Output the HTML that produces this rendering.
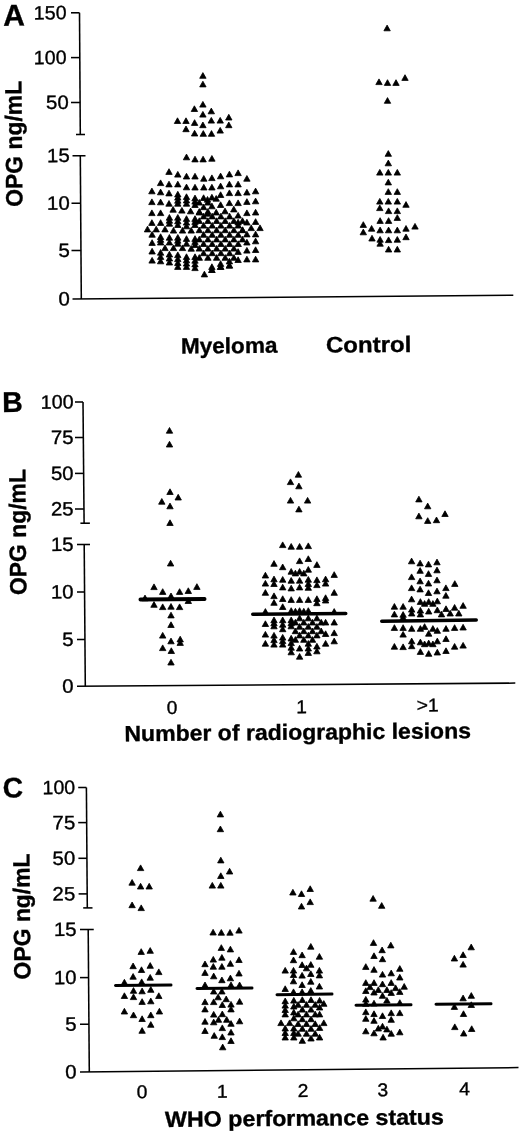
<!DOCTYPE html>
<html><head><meta charset="utf-8"><title>OPG figure</title>
<style>
html,body{margin:0;padding:0;background:#fff;}
svg{display:block;}
text{font-family:"Liberation Sans",Arial,Helvetica,sans-serif;fill:#000;stroke:#000;stroke-width:0.35px;}
</style></head><body>
<svg width="520" height="1135" viewBox="0 0 520 1135">
<rect width="520" height="1135" fill="#fff"/>
<line x1="79.5" y1="12.8" x2="80.3" y2="134.5" stroke="#000" stroke-width="1.55"/>
<line x1="71" y1="12.8" x2="79.5" y2="12.8" stroke="#000" stroke-width="1.55"/>
<line x1="71" y1="57.6" x2="79.8" y2="57.6" stroke="#000" stroke-width="1.55"/>
<line x1="71" y1="102.5" x2="80.1" y2="102.5" stroke="#000" stroke-width="1.55"/>
<line x1="76" y1="134.5" x2="85" y2="134.5" stroke="#000" stroke-width="1.55"/>
<line x1="80.3" y1="155.75" x2="81.3" y2="299" stroke="#000" stroke-width="1.55"/>
<line x1="72.5" y1="155.75" x2="85.5" y2="155.75" stroke="#000" stroke-width="1.55"/>
<line x1="71.5" y1="203.25" x2="80.8" y2="203.25" stroke="#000" stroke-width="1.55"/>
<line x1="71.5" y1="250.5" x2="81" y2="250.5" stroke="#000" stroke-width="1.55"/>
<line x1="72.5" y1="299" x2="513.3" y2="295.2" stroke="#000" stroke-width="1.55"/>
<text x="66.6" y="19.200000000000003" font-size="19.3" text-anchor="end" transform="rotate(-0.5 66.6 19.200000000000003)" textLength="32.8" lengthAdjust="spacingAndGlyphs">150</text>
<text x="66.6" y="64.0" font-size="19.3" text-anchor="end" transform="rotate(-0.5 66.6 64.0)" textLength="32.8" lengthAdjust="spacingAndGlyphs">100</text>
<text x="68.8" y="108.9" font-size="19.3" text-anchor="end" transform="rotate(-0.5 68.8 108.9)" textLength="22.7" lengthAdjust="spacingAndGlyphs">50</text>
<text x="69.8" y="162.0" font-size="19.3" text-anchor="end" transform="rotate(-0.5 69.8 162.0)" textLength="22.7" lengthAdjust="spacingAndGlyphs">15</text>
<text x="69.8" y="209.65" font-size="19.3" text-anchor="end" transform="rotate(-0.5 69.8 209.65)" textLength="22.7" lengthAdjust="spacingAndGlyphs">10</text>
<text x="69.8" y="256.9" font-size="19.3" text-anchor="end" transform="rotate(-0.5 69.8 256.9)" textLength="11.4" lengthAdjust="spacingAndGlyphs">5</text>
<text x="69.8" y="305.4" font-size="19.3" text-anchor="end" transform="rotate(-0.5 69.8 305.4)" textLength="11.4" lengthAdjust="spacingAndGlyphs">0</text>
<text x="3.2" y="25.8" font-size="30" font-weight="bold" text-anchor="start" transform="rotate(-0.5 3.2 25.8)">A</text>
<text x="22.5" y="206.8" font-size="23.6" font-weight="bold" text-anchor="start" transform="rotate(-90.5 22.5 206.8)" textLength="126" lengthAdjust="spacingAndGlyphs">OPG ng/mL</text>
<text x="181" y="353.6" font-size="22" font-weight="bold" text-anchor="start" transform="rotate(-0.5 181 353.6)" textLength="96.5" lengthAdjust="spacingAndGlyphs">Myeloma</text>
<text x="326" y="352.6" font-size="22.3" font-weight="bold" text-anchor="start" transform="rotate(-0.5 326 352.6)" textLength="85.5" lengthAdjust="spacingAndGlyphs">Control</text>
<line x1="83" y1="402" x2="84.1" y2="523.2" stroke="#000" stroke-width="1.55"/>
<line x1="75" y1="402" x2="83" y2="402" stroke="#000" stroke-width="1.55"/>
<line x1="75" y1="437.5" x2="83.3" y2="437.5" stroke="#000" stroke-width="1.55"/>
<line x1="75" y1="473.4" x2="83.6" y2="473.4" stroke="#000" stroke-width="1.55"/>
<line x1="75" y1="509" x2="83.9" y2="509" stroke="#000" stroke-width="1.55"/>
<line x1="80.4" y1="523.2" x2="89.9" y2="523.2" stroke="#000" stroke-width="1.55"/>
<line x1="84.2" y1="544.5" x2="85.3" y2="686.25" stroke="#000" stroke-width="1.55"/>
<line x1="77" y1="544.5" x2="90" y2="544.5" stroke="#000" stroke-width="1.55"/>
<line x1="77" y1="592" x2="84.6" y2="592" stroke="#000" stroke-width="1.55"/>
<line x1="77" y1="639.5" x2="85" y2="639.5" stroke="#000" stroke-width="1.55"/>
<line x1="77" y1="686.3" x2="515.3" y2="683.1" stroke="#000" stroke-width="1.55"/>
<text x="73.6" y="408.4" font-size="19.3" text-anchor="end" transform="rotate(-0.5 73.6 408.4)" textLength="32.8" lengthAdjust="spacingAndGlyphs">100</text>
<text x="73.6" y="443.9" font-size="19.3" text-anchor="end" transform="rotate(-0.5 73.6 443.9)" textLength="22.7" lengthAdjust="spacingAndGlyphs">75</text>
<text x="73.6" y="479.79999999999995" font-size="19.3" text-anchor="end" transform="rotate(-0.5 73.6 479.79999999999995)" textLength="22.7" lengthAdjust="spacingAndGlyphs">50</text>
<text x="73.6" y="515.4" font-size="19.3" text-anchor="end" transform="rotate(-0.5 73.6 515.4)" textLength="22.7" lengthAdjust="spacingAndGlyphs">25</text>
<text x="73.6" y="550.9" font-size="19.3" text-anchor="end" transform="rotate(-0.5 73.6 550.9)" textLength="22.7" lengthAdjust="spacingAndGlyphs">15</text>
<text x="73.6" y="598.4" font-size="19.3" text-anchor="end" transform="rotate(-0.5 73.6 598.4)" textLength="22.7" lengthAdjust="spacingAndGlyphs">10</text>
<text x="73.6" y="645.9" font-size="19.3" text-anchor="end" transform="rotate(-0.5 73.6 645.9)" textLength="11.4" lengthAdjust="spacingAndGlyphs">5</text>
<text x="73.6" y="692.65" font-size="19.3" text-anchor="end" transform="rotate(-0.5 73.6 692.65)" textLength="11.4" lengthAdjust="spacingAndGlyphs">0</text>
<text x="2.3" y="411.9" font-size="28.5" font-weight="bold" text-anchor="start" transform="rotate(-0.5 2.3 411.9)">B</text>
<text x="26.4" y="595.0" font-size="23.6" font-weight="bold" text-anchor="start" transform="rotate(-90.5 26.4 595.0)" textLength="126" lengthAdjust="spacingAndGlyphs">OPG ng/mL</text>
<text x="172" y="714" font-size="18.5" text-anchor="middle" transform="rotate(-0.5 172 714)" textLength="10.7" lengthAdjust="spacingAndGlyphs">0</text>
<text x="301.5" y="713.3" font-size="18.5" text-anchor="middle" transform="rotate(-0.5 301.5 713.3)" textLength="10.7" lengthAdjust="spacingAndGlyphs">1</text>
<text x="416.7" y="711.5" font-size="18.5" text-anchor="start" transform="rotate(-0.5 416.7 711.5)" textLength="22" lengthAdjust="spacingAndGlyphs">&gt;1</text>
<text x="124.5" y="741.2" font-size="22" font-weight="bold" text-anchor="start" transform="rotate(-0.5 124.5 741.2)" textLength="346.5" lengthAdjust="spacingAndGlyphs">Number of radiographic lesions</text>
<line x1="86.4" y1="787.5" x2="87.3" y2="907.9" stroke="#000" stroke-width="1.55"/>
<line x1="78.2" y1="787.5" x2="86.4" y2="787.5" stroke="#000" stroke-width="1.55"/>
<line x1="78.2" y1="822.6" x2="86.7" y2="822.6" stroke="#000" stroke-width="1.55"/>
<line x1="78.4" y1="858.3" x2="87" y2="858.3" stroke="#000" stroke-width="1.55"/>
<line x1="78.6" y1="893.9" x2="87.2" y2="893.9" stroke="#000" stroke-width="1.55"/>
<line x1="83.2" y1="907.9" x2="92.5" y2="907.9" stroke="#000" stroke-width="1.55"/>
<line x1="88.2" y1="929.5" x2="89.3" y2="1072" stroke="#000" stroke-width="1.55"/>
<line x1="80" y1="929.5" x2="93.75" y2="929.5" stroke="#000" stroke-width="1.55"/>
<line x1="80" y1="977.6" x2="88.6" y2="977.6" stroke="#000" stroke-width="1.55"/>
<line x1="80" y1="1024.25" x2="89" y2="1024.25" stroke="#000" stroke-width="1.55"/>
<line x1="80" y1="1072" x2="518.5" y2="1067.6" stroke="#000" stroke-width="1.55"/>
<text x="75.3" y="793.9" font-size="19.3" text-anchor="end" transform="rotate(-0.5 75.3 793.9)" textLength="32.8" lengthAdjust="spacingAndGlyphs">100</text>
<text x="75.3" y="829.15" font-size="19.3" text-anchor="end" transform="rotate(-0.5 75.3 829.15)" textLength="22.7" lengthAdjust="spacingAndGlyphs">75</text>
<text x="75.3" y="864.6999999999999" font-size="19.3" text-anchor="end" transform="rotate(-0.5 75.3 864.6999999999999)" textLength="22.7" lengthAdjust="spacingAndGlyphs">50</text>
<text x="75.3" y="900.3" font-size="19.3" text-anchor="end" transform="rotate(-0.5 75.3 900.3)" textLength="22.7" lengthAdjust="spacingAndGlyphs">25</text>
<text x="76.7" y="935.9" font-size="19.3" text-anchor="end" transform="rotate(-0.5 76.7 935.9)" textLength="22.7" lengthAdjust="spacingAndGlyphs">15</text>
<text x="76.7" y="984.0" font-size="19.3" text-anchor="end" transform="rotate(-0.5 76.7 984.0)" textLength="22.7" lengthAdjust="spacingAndGlyphs">10</text>
<text x="76.7" y="1030.65" font-size="19.3" text-anchor="end" transform="rotate(-0.5 76.7 1030.65)" textLength="11.4" lengthAdjust="spacingAndGlyphs">5</text>
<text x="76.7" y="1078.4" font-size="19.3" text-anchor="end" transform="rotate(-0.5 76.7 1078.4)" textLength="11.4" lengthAdjust="spacingAndGlyphs">0</text>
<text x="2.8" y="797.5" font-size="28.3" font-weight="bold" text-anchor="start" transform="rotate(-0.5 2.8 797.5)">C</text>
<text x="30.6" y="979.4" font-size="23.6" font-weight="bold" text-anchor="start" transform="rotate(-90.5 30.6 979.4)" textLength="126" lengthAdjust="spacingAndGlyphs">OPG ng/mL</text>
<text x="142.2" y="1098.3" font-size="18.5" text-anchor="middle" transform="rotate(-0.5 142.2 1098.3)" textLength="10.7" lengthAdjust="spacingAndGlyphs">0</text>
<text x="222.3" y="1097.6" font-size="18.5" text-anchor="middle" transform="rotate(-0.5 222.3 1097.6)" textLength="10.7" lengthAdjust="spacingAndGlyphs">1</text>
<text x="303" y="1096.9" font-size="18.5" text-anchor="middle" transform="rotate(-0.5 303 1096.9)" textLength="10.7" lengthAdjust="spacingAndGlyphs">2</text>
<text x="382.9" y="1096.1" font-size="18.5" text-anchor="middle" transform="rotate(-0.5 382.9 1096.1)" textLength="10.7" lengthAdjust="spacingAndGlyphs">3</text>
<text x="464.6" y="1095.2" font-size="18.5" text-anchor="middle" transform="rotate(-0.5 464.6 1095.2)" textLength="10.7" lengthAdjust="spacingAndGlyphs">4</text>
<text x="165" y="1126.9" font-size="22" font-weight="bold" text-anchor="start" transform="rotate(-0.5 165 1126.9)" textLength="279" lengthAdjust="spacingAndGlyphs">WHO performance status</text>
<path d="M199.7 78.3L206.1 78.3L202.9 72.6ZM199.7 86.9L206.1 86.9L202.9 81.2ZM199.7 107.1L206.1 107.1L202.9 101.4ZM191.2 111.5L197.6 111.5L194.4 105.8ZM208.1 113.8L214.5 113.8L211.3 108.1ZM199.7 117.1L206.1 117.1L202.9 111.4ZM174.3 123.5L180.7 123.5L177.5 117.8ZM182.8 123.5L189.2 123.5L186.0 117.8ZM191.4 125.4L197.8 125.4L194.6 119.7ZM199.7 127.7L206.1 127.7L202.9 122.0ZM208.1 123.1L214.5 123.1L211.3 117.4ZM217.0 123.1L223.4 123.1L220.2 117.4ZM225.6 120.0L232.0 120.0L228.8 114.3ZM225.6 127.7L232.0 127.7L228.8 122.0ZM182.8 131.7L189.2 131.7L186.0 126.0ZM191.4 136.0L197.8 136.0L194.6 130.3ZM200.1 136.3L206.5 136.3L203.3 130.6ZM208.3 136.3L214.7 136.3L211.5 130.6ZM217.0 133.1L223.4 133.1L220.2 127.4ZM183.3 159.8L189.7 159.8L186.5 154.1ZM191.8 161.9L198.2 161.9L195.0 156.2ZM199.9 161.9L206.3 161.9L203.1 156.2ZM165.8 174.4L172.2 174.4L169.0 168.7ZM174.6 177.1L181.0 177.1L177.8 171.4ZM183.3 179.0L189.7 179.0L186.5 173.3ZM191.8 179.0L198.2 179.0L195.0 173.3ZM200.6 181.2L207.0 181.2L203.8 175.5ZM157.4 185.6L163.8 185.6L160.6 179.9ZM165.8 186.9L172.2 186.9L169.0 181.2ZM174.6 186.9L181.0 186.9L177.8 181.2ZM183.3 189.8L189.7 189.8L186.5 184.1ZM191.8 190.0L198.2 190.0L195.0 184.3ZM200.6 190.0L207.0 190.0L203.8 184.3ZM148.7 193.8L155.1 193.8L151.9 188.1ZM157.4 194.8L163.8 194.8L160.6 189.1ZM165.8 195.9L172.2 195.9L169.0 190.2ZM174.6 197.0L181.0 197.0L177.8 191.3ZM174.6 200.1L181.0 200.1L177.8 194.4ZM174.6 203.2L181.0 203.2L177.8 197.5ZM174.6 206.2L181.0 206.2L177.8 200.5ZM183.3 199.5L189.7 199.5L186.5 193.8ZM183.3 202.9L189.7 202.9L186.5 197.2ZM183.3 206.2L189.7 206.2L186.5 200.5ZM191.8 200.8L198.2 200.8L195.0 195.1ZM191.8 204.1L198.2 204.1L195.0 198.4ZM191.8 207.5L198.2 207.5L195.0 201.8ZM148.7 204.6L155.1 204.6L151.9 198.9ZM157.4 204.8L163.8 204.8L160.6 199.1ZM165.8 206.2L172.2 206.2L169.0 200.5ZM169.9 212.2L176.3 212.2L173.1 206.5ZM178.7 213.1L185.1 213.1L181.9 207.4ZM187.4 213.8L193.8 213.8L190.6 208.1ZM196.2 215.0L202.6 215.0L199.4 209.3ZM148.7 215.6L155.1 215.6L151.9 209.9ZM157.4 215.6L163.8 215.6L160.6 209.9ZM166.2 220.2L172.6 220.2L169.4 214.5ZM166.2 223.2L172.6 223.2L169.4 217.5ZM166.2 226.2L172.6 226.2L169.4 220.5ZM174.6 220.2L181.0 220.2L177.8 214.5ZM174.6 223.8L181.0 223.8L177.8 218.1ZM174.6 227.5L181.0 227.5L177.8 221.8ZM183.3 221.4L189.7 221.4L186.5 215.7ZM183.3 225.1L189.7 225.1L186.5 219.4ZM183.3 228.8L189.7 228.8L186.5 223.1ZM191.8 221.4L198.2 221.4L195.0 215.7ZM191.8 224.4L198.2 224.4L195.0 218.7ZM191.8 227.5L198.2 227.5L195.0 221.8ZM148.7 225.4L155.1 225.4L151.9 219.7ZM157.4 225.4L163.8 225.4L160.6 219.7ZM144.3 231.9L150.7 231.9L147.5 226.2ZM153.0 231.9L159.4 231.9L156.2 226.2ZM161.8 231.9L168.2 231.9L165.0 226.2ZM170.3 233.1L176.7 233.1L173.5 227.4ZM179.3 233.1L185.7 233.1L182.5 227.4ZM188.0 233.1L194.4 233.1L191.2 227.4ZM148.9 237.2L155.3 237.2L152.1 231.5ZM157.4 239.5L163.8 239.5L160.6 233.8ZM157.4 242.3L163.8 242.3L160.6 236.6ZM157.4 245.0L163.8 245.0L160.6 239.3ZM166.2 240.2L172.6 240.2L169.4 234.5ZM166.2 245.0L172.6 245.0L169.4 239.3ZM174.6 240.2L181.0 240.2L177.8 234.5ZM174.6 243.2L181.0 243.2L177.8 237.5ZM174.6 246.2L181.0 246.2L177.8 240.5ZM183.3 241.4L189.7 241.4L186.5 235.7ZM183.3 246.2L189.7 246.2L186.5 240.5ZM191.8 241.4L198.2 241.4L195.0 235.7ZM191.8 244.4L198.2 244.4L195.0 238.7ZM191.8 247.5L198.2 247.5L195.0 241.8ZM148.9 245.4L155.3 245.4L152.1 239.7ZM161.8 250.6L168.2 250.6L165.0 244.9ZM170.3 250.6L176.7 250.6L173.5 244.9ZM179.3 250.6L185.7 250.6L182.5 244.9ZM188.0 251.2L194.4 251.2L191.2 245.5ZM148.9 254.0L155.3 254.0L152.1 248.3ZM157.4 255.2L163.8 255.2L160.6 249.5ZM157.4 259.4L163.8 259.4L160.6 253.7ZM157.4 263.8L163.8 263.8L160.6 258.1ZM166.2 257.0L172.6 257.0L169.4 251.3ZM166.2 261.0L172.6 261.0L169.4 255.3ZM166.2 265.0L172.6 265.0L169.4 259.3ZM174.6 257.6L181.0 257.6L177.8 251.9ZM174.6 261.6L181.0 261.6L177.8 255.9ZM174.6 265.5L181.0 265.5L177.8 259.8ZM174.6 269.4L181.0 269.4L177.8 263.7ZM183.3 259.5L189.7 259.5L186.5 253.8ZM183.3 262.8L189.7 262.8L186.5 257.1ZM183.3 266.1L189.7 266.1L186.5 260.4ZM183.3 269.4L189.7 269.4L186.5 263.7ZM191.8 259.5L198.2 259.5L195.0 253.8ZM191.8 263.2L198.2 263.2L195.0 257.5ZM191.8 266.9L198.2 266.9L195.0 261.2ZM191.8 270.6L198.2 270.6L195.0 264.9ZM148.9 263.1L155.3 263.1L152.1 257.4ZM208.7 161.2L215.1 161.2L211.9 155.5ZM234.9 175.6L241.3 175.6L238.1 169.9ZM226.2 176.9L232.6 176.9L229.4 171.2ZM217.4 178.8L223.8 178.8L220.6 173.1ZM208.7 180.6L215.1 180.6L211.9 174.9ZM243.7 181.2L250.1 181.2L246.9 175.5ZM234.9 186.9L241.3 186.9L238.1 181.2ZM226.2 186.9L232.6 186.9L229.4 181.2ZM217.4 188.8L223.8 188.8L220.6 183.1ZM208.7 190.0L215.1 190.0L211.9 184.3ZM252.4 193.8L258.8 193.8L255.6 188.1ZM243.7 195.0L250.1 195.0L246.9 189.3ZM234.9 195.6L241.3 195.6L238.1 189.9ZM226.2 195.6L232.6 195.6L229.4 189.9ZM217.4 197.5L223.8 197.5L220.6 191.8ZM208.7 200.0L215.1 200.0L211.9 194.3ZM252.4 203.8L258.8 203.8L255.6 198.1ZM243.7 204.4L250.1 204.4L246.9 198.7ZM234.9 205.6L241.3 205.6L238.1 199.9ZM226.2 205.6L232.6 205.6L229.4 199.9ZM217.4 207.5L223.8 207.5L220.6 201.8ZM208.7 208.8L215.1 208.8L211.9 203.1ZM230.6 211.9L237.0 211.9L233.8 206.2ZM221.8 213.8L228.2 213.8L225.0 208.1ZM213.0 215.0L219.4 215.0L216.2 209.3ZM204.3 216.2L210.7 216.2L207.5 210.5ZM204.3 202.2L210.7 202.2L207.5 196.5ZM213.0 201.2L219.4 201.2L216.2 195.5ZM252.4 215.0L258.8 215.0L255.6 209.3ZM243.7 215.6L250.1 215.6L246.9 209.9ZM234.9 218.1L241.3 218.1L238.1 212.4ZM252.4 224.4L258.8 224.4L255.6 218.7ZM243.7 225.0L250.1 225.0L246.9 219.3ZM234.9 225.0L241.3 225.0L238.1 219.3ZM256.8 230.6L263.2 230.6L260.0 224.9ZM248.0 230.6L254.4 230.6L251.2 224.9ZM239.3 232.5L245.7 232.5L242.5 226.8ZM252.4 236.9L258.8 236.9L255.6 231.2ZM252.4 243.8L258.8 243.8L255.6 238.1ZM243.7 236.9L250.1 236.9L246.9 231.2ZM243.7 245.0L250.1 245.0L246.9 239.3ZM252.4 252.5L258.8 252.5L255.6 246.8ZM243.7 253.1L250.1 253.1L246.9 247.4ZM252.4 261.9L258.8 261.9L255.6 256.2ZM243.7 261.9L250.1 261.9L246.9 256.2ZM234.9 262.5L241.3 262.5L238.1 256.8ZM234.9 254.4L241.3 254.4L238.1 248.7ZM226.2 268.1L232.6 268.1L229.4 262.4ZM217.4 269.4L223.8 269.4L220.6 263.7ZM208.7 272.5L215.1 272.5L211.9 266.8ZM201.2 276.9L207.6 276.9L204.4 271.2ZM217.4 266.4L223.8 266.4L220.6 260.7ZM217.4 269.4L223.8 269.4L220.6 263.7ZM226.2 263.9L232.6 263.9L229.4 258.2ZM226.2 268.1L232.6 268.1L229.4 262.4ZM208.7 269.5L215.1 269.5L211.9 263.8ZM208.7 272.5L215.1 272.5L211.9 266.8ZM200.4 200.5L206.8 200.5L203.6 194.8ZM196.1 205.1L202.5 205.1L199.3 199.4ZM204.7 205.1L211.1 205.1L207.9 199.4ZM200.4 209.7L206.8 209.7L203.6 204.0ZM196.1 214.3L202.5 214.3L199.3 208.6ZM204.7 214.3L211.1 214.3L207.9 208.6ZM200.4 218.9L206.8 218.9L203.6 213.2ZM209.0 218.9L215.4 218.9L212.2 213.2ZM217.7 218.9L224.1 218.9L220.9 213.2ZM226.4 218.9L232.8 218.9L229.6 213.2ZM196.1 223.5L202.5 223.5L199.3 217.8ZM204.7 223.5L211.1 223.5L207.9 217.8ZM213.4 223.5L219.8 223.5L216.6 217.8ZM222.0 223.5L228.4 223.5L225.2 217.8ZM230.7 223.5L237.1 223.5L233.9 217.8ZM239.3 223.5L245.7 223.5L242.5 217.8ZM200.4 228.1L206.8 228.1L203.6 222.4ZM209.0 228.1L215.4 228.1L212.2 222.4ZM217.7 228.1L224.1 228.1L220.9 222.4ZM226.4 228.1L232.8 228.1L229.6 222.4ZM235.0 228.1L241.4 228.1L238.2 222.4ZM196.1 232.7L202.5 232.7L199.3 227.0ZM204.7 232.7L211.1 232.7L207.9 227.0ZM213.4 232.7L219.8 232.7L216.6 227.0ZM222.0 232.7L228.4 232.7L225.2 227.0ZM230.7 232.7L237.1 232.7L233.9 227.0ZM239.3 232.7L245.7 232.7L242.5 227.0ZM200.4 237.3L206.8 237.3L203.6 231.6ZM209.0 237.3L215.4 237.3L212.2 231.6ZM217.7 237.3L224.1 237.3L220.9 231.6ZM226.4 237.3L232.8 237.3L229.6 231.6ZM235.0 237.3L241.4 237.3L238.2 231.6ZM196.1 241.9L202.5 241.9L199.3 236.2ZM204.7 241.9L211.1 241.9L207.9 236.2ZM213.4 241.9L219.8 241.9L216.6 236.2ZM222.0 241.9L228.4 241.9L225.2 236.2ZM230.7 241.9L237.1 241.9L233.9 236.2ZM239.3 241.9L245.7 241.9L242.5 236.2ZM200.4 246.5L206.8 246.5L203.6 240.8ZM209.0 246.5L215.4 246.5L212.2 240.8ZM217.7 246.5L224.1 246.5L220.9 240.8ZM226.4 246.5L232.8 246.5L229.6 240.8ZM235.0 246.5L241.4 246.5L238.2 240.8ZM196.1 251.1L202.5 251.1L199.3 245.4ZM204.7 251.1L211.1 251.1L207.9 245.4ZM213.4 251.1L219.8 251.1L216.6 245.4ZM222.0 251.1L228.4 251.1L225.2 245.4ZM230.7 251.1L237.1 251.1L233.9 245.4ZM200.4 255.7L206.8 255.7L203.6 250.0ZM209.0 255.7L215.4 255.7L212.2 250.0ZM217.7 255.7L224.1 255.7L220.9 250.0ZM226.4 255.7L232.8 255.7L229.6 250.0ZM196.1 260.3L202.5 260.3L199.3 254.6ZM204.7 260.3L211.1 260.3L207.9 254.6ZM213.4 260.3L219.8 260.3L216.6 254.6ZM222.0 260.3L228.4 260.3L225.2 254.6ZM230.7 260.3L237.1 260.3L233.9 254.6ZM383.9 30.8L390.3 30.8L387.1 25.1ZM375.8 84.6L382.2 84.6L379.0 78.9ZM384.3 85.4L390.7 85.4L387.5 79.7ZM392.8 85.4L399.2 85.4L396.0 79.7ZM401.8 80.4L408.2 80.4L405.0 74.7ZM384.3 103.3L390.7 103.3L387.5 97.6ZM385.1 156.3L391.5 156.3L388.3 150.6ZM385.1 165.8L391.5 165.8L388.3 160.1ZM376.6 175.1L383.0 175.1L379.8 169.4ZM385.1 175.1L391.5 175.1L388.3 169.4ZM394.1 175.1L400.5 175.1L397.3 169.4ZM385.1 184.9L391.5 184.9L388.3 179.2ZM385.1 194.4L391.5 194.4L388.3 188.7ZM394.1 194.4L400.5 194.4L397.3 188.7ZM376.6 204.1L383.0 204.1L379.8 198.4ZM376.6 210.6L383.0 210.6L379.8 204.9ZM385.1 204.1L391.5 204.1L388.3 198.4ZM394.1 204.1L400.5 204.1L397.3 198.4ZM402.8 207.3L409.2 207.3L406.0 201.6ZM385.4 213.6L391.8 213.6L388.6 207.9ZM394.1 213.6L400.5 213.6L397.3 207.9ZM394.1 220.4L400.5 220.4L397.3 214.7ZM376.9 223.4L383.3 223.4L380.1 217.7ZM385.4 223.4L391.8 223.4L388.6 217.7ZM360.1 227.4L366.5 227.4L363.3 221.7ZM368.4 231.2L374.8 231.2L371.6 225.5ZM376.9 232.8L383.3 232.8L380.1 227.1ZM385.4 232.8L391.8 232.8L388.6 227.1ZM394.1 232.8L400.5 232.8L397.3 227.1ZM402.8 231.2L409.2 231.2L406.0 225.5ZM411.8 229.1L418.2 229.1L415.0 223.4ZM360.1 234.8L366.5 234.8L363.3 229.1ZM368.8 241.0L375.2 241.0L372.0 235.3ZM376.9 242.2L383.3 242.2L380.1 236.5ZM376.9 246.2L383.3 246.2L380.1 240.5ZM385.4 242.6L391.8 242.6L388.6 236.9ZM394.1 242.2L400.5 242.2L397.3 236.5ZM402.8 239.7L409.2 239.7L406.0 234.0ZM385.4 252.0L391.8 252.0L388.6 246.3ZM394.1 252.0L400.5 252.0L397.3 246.3ZM166.3 433.2L172.7 433.2L169.5 427.5ZM166.3 447.0L172.7 447.0L169.5 441.3ZM166.8 494.5L173.2 494.5L170.0 488.8ZM175.0 500.0L181.4 500.0L178.2 494.3ZM158.6 504.2L165.0 504.2L161.8 498.5ZM166.8 508.8L173.2 508.8L170.0 503.1ZM166.8 525.5L173.2 525.5L170.0 519.8ZM167.4 566.0L173.8 566.0L170.6 560.3ZM150.8 589.6L157.2 589.6L154.0 583.9ZM193.7 589.4L200.1 589.4L196.9 583.7ZM159.5 594.4L165.9 594.4L162.7 588.7ZM176.4 594.4L182.8 594.4L179.6 588.7ZM185.1 593.5L191.5 593.5L188.3 587.8ZM167.8 598.7L174.2 598.7L171.0 593.0ZM141.8 600.8L148.2 600.8L145.0 595.1ZM150.8 607.3L157.2 607.3L154.0 601.6ZM159.5 609.6L165.9 609.6L162.7 603.9ZM167.8 609.2L174.2 609.2L171.0 603.5ZM176.4 609.6L182.8 609.6L179.6 603.9ZM185.1 603.5L191.5 603.5L188.3 597.8ZM167.8 617.9L174.2 617.9L171.0 612.2ZM167.8 627.5L174.2 627.5L171.0 621.8ZM159.5 638.1L165.9 638.1L162.7 632.4ZM177.0 641.9L183.4 641.9L180.2 636.2ZM177.0 645.4L183.4 645.4L180.2 639.7ZM167.8 643.8L174.2 643.8L171.0 638.1ZM159.5 650.6L165.9 650.6L162.7 644.9ZM168.1 653.5L174.5 653.5L171.3 647.8ZM167.8 665.0L174.2 665.0L171.0 659.3ZM295.2 477.2L301.6 477.2L298.4 471.5ZM287.3 484.6L293.7 484.6L290.5 478.9ZM295.7 488.8L302.1 488.8L298.9 483.1ZM287.3 503.1L293.7 503.1L290.5 497.4ZM304.4 503.1L310.8 503.1L307.6 497.4ZM295.7 511.9L302.1 511.9L298.9 506.2ZM279.5 547.6L285.9 547.6L282.7 541.9ZM288.0 549.2L294.4 549.2L291.2 543.5ZM296.4 549.2L302.8 549.2L299.6 543.5ZM305.1 548.6L311.5 548.6L308.3 542.9ZM296.4 563.6L302.8 563.6L299.6 557.9ZM305.1 561.5L311.5 561.5L308.3 555.8ZM270.8 566.3L277.2 566.3L274.0 560.6ZM279.5 569.7L285.9 569.7L282.7 564.0ZM313.7 567.4L320.1 567.4L316.9 561.7ZM305.1 572.2L311.5 572.2L308.3 566.5ZM288.0 574.2L294.4 574.2L291.2 568.5ZM292.2 575.9L298.6 575.9L295.4 570.2ZM296.4 574.2L302.8 574.2L299.6 568.5ZM300.6 575.9L307.0 575.9L303.8 570.2ZM262.2 578.0L268.6 578.0L265.4 572.3ZM331.0 577.4L337.4 577.4L334.2 571.7ZM270.8 581.8L277.2 581.8L274.0 576.1ZM279.5 582.2L285.9 582.2L282.7 576.5ZM288.0 583.2L294.4 583.2L291.2 577.5ZM296.4 583.2L302.8 583.2L299.6 577.5ZM305.1 582.2L311.5 582.2L308.3 576.5ZM313.7 582.6L320.1 582.6L316.9 576.9ZM322.4 581.8L328.8 581.8L325.6 576.1ZM262.2 586.1L268.6 586.1L265.4 580.4ZM270.8 586.5L277.2 586.5L274.0 580.8ZM279.5 589.9L285.9 589.9L282.7 584.2ZM288.0 590.9L294.4 590.9L291.2 585.2ZM296.4 589.9L302.8 589.9L299.6 584.2ZM305.1 586.5L311.5 586.5L308.3 580.8ZM305.1 590.3L311.5 590.3L308.3 584.6ZM313.7 587.6L320.1 587.6L316.9 581.9ZM322.4 586.1L328.8 586.1L325.6 580.4ZM262.2 595.3L268.6 595.3L265.4 589.6ZM331.0 595.3L337.4 595.3L334.2 589.6ZM270.8 598.6L277.2 598.6L274.0 592.9ZM279.5 601.5L285.9 601.5L282.7 595.8ZM288.0 602.4L294.4 602.4L291.2 596.7ZM296.4 602.4L302.8 602.4L299.6 596.7ZM305.1 602.4L311.5 602.4L308.3 596.7ZM313.7 601.5L320.1 601.5L316.9 595.8ZM322.4 600.5L328.8 600.5L325.6 594.8ZM270.8 605.3L277.2 605.3L274.0 599.6ZM313.7 605.7L320.1 605.7L316.9 600.0ZM322.4 603.0L328.8 603.0L325.6 597.3ZM279.5 609.5L285.9 609.5L282.7 603.8ZM288.0 613.4L294.4 613.4L291.2 607.7ZM296.4 613.4L302.8 613.4L299.6 607.7ZM300.6 614.0L307.0 614.0L303.8 608.3ZM305.1 613.4L311.5 613.4L308.3 607.7ZM262.2 614.3L268.6 614.3L265.4 608.6ZM331.0 614.3L337.4 614.3L334.2 608.6ZM292.2 614.0L298.6 614.0L295.4 608.3ZM262.2 626.5L268.6 626.5L265.4 620.8ZM262.2 637.1L268.6 637.1L265.4 631.4ZM262.2 646.2L268.6 646.2L265.4 640.5ZM270.8 622.7L277.2 622.7L274.0 617.0ZM270.8 625.8L277.2 625.8L274.0 620.1ZM270.8 628.8L277.2 628.8L274.0 623.1ZM270.8 638.1L277.2 638.1L274.0 632.4ZM270.8 642.6L277.2 642.6L274.0 636.9ZM270.8 647.1L277.2 647.1L274.0 641.4ZM279.5 622.7L285.9 622.7L282.7 617.0ZM279.5 627.2L285.9 627.2L282.7 621.5ZM279.5 631.7L285.9 631.7L282.7 626.0ZM279.5 640.1L285.9 640.1L282.7 634.4ZM279.5 643.6L285.9 643.6L282.7 637.9ZM279.5 647.1L285.9 647.1L282.7 641.4ZM288.0 622.7L294.4 622.7L291.2 617.0ZM288.0 625.8L294.4 625.8L291.2 620.1ZM288.0 628.8L294.4 628.8L291.2 623.1ZM288.0 641.0L294.4 641.0L291.2 635.3ZM288.0 645.6L294.4 645.6L291.2 639.9ZM288.0 650.2L294.4 650.2L291.2 644.5ZM288.0 654.8L294.4 654.8L291.2 649.1ZM296.4 651.0L302.8 651.0L299.6 645.3ZM296.4 659.2L302.8 659.2L299.6 653.5ZM305.1 646.2L311.5 646.2L308.3 640.5ZM305.1 651.0L311.5 651.0L308.3 645.3ZM305.1 655.4L311.5 655.4L308.3 649.7ZM313.7 649.0L320.1 649.0L316.9 643.3ZM313.7 653.8L320.1 653.8L316.9 648.1ZM322.4 625.0L328.8 625.0L325.6 619.3ZM322.4 636.5L328.8 636.5L325.6 630.8ZM322.4 646.2L328.8 646.2L325.6 640.5ZM331.0 625.0L337.4 625.0L334.2 619.3ZM331.0 635.6L337.4 635.6L334.2 629.9ZM331.0 643.8L337.4 643.8L334.2 638.1ZM296.4 620.8L302.8 620.8L299.6 615.1ZM305.1 620.8L311.5 620.8L308.3 615.1ZM313.7 620.8L320.1 620.8L316.9 615.1ZM292.2 625.0L298.6 625.0L295.4 619.3ZM300.6 625.0L307.0 625.0L303.8 619.3ZM309.3 625.0L315.7 625.0L312.5 619.3ZM318.0 625.0L324.4 625.0L321.2 619.3ZM296.4 629.2L302.8 629.2L299.6 623.5ZM305.1 629.2L311.5 629.2L308.3 623.5ZM313.7 629.2L320.1 629.2L316.9 623.5ZM292.2 633.7L298.6 633.7L295.4 628.0ZM300.6 633.7L307.0 633.7L303.8 628.0ZM309.3 633.7L315.7 633.7L312.5 628.0ZM318.0 633.7L324.4 633.7L321.2 628.0ZM296.4 637.9L302.8 637.9L299.6 632.2ZM305.1 637.9L311.5 637.9L308.3 632.2ZM313.7 637.9L320.1 637.9L316.9 632.2ZM292.2 642.3L298.6 642.3L295.4 636.6ZM300.6 642.3L307.0 642.3L303.8 636.6ZM309.3 642.3L315.7 642.3L312.5 636.6ZM415.7 501.9L422.1 501.9L418.9 496.2ZM424.5 508.8L430.9 508.8L427.7 503.1ZM415.7 518.8L422.1 518.8L418.9 513.1ZM424.5 523.4L430.9 523.4L427.7 517.7ZM433.3 522.7L439.7 522.7L436.5 517.0ZM441.8 516.5L448.2 516.5L445.0 510.8ZM408.4 563.8L414.8 563.8L411.6 558.1ZM416.9 565.9L423.3 565.9L420.1 560.2ZM425.3 566.9L431.7 566.9L428.5 561.2ZM433.8 564.8L440.2 564.8L437.0 559.1ZM416.9 573.3L423.3 573.3L420.1 567.6ZM425.3 576.4L431.7 576.4L428.5 570.7ZM433.8 572.8L440.2 572.8L437.0 567.1ZM408.4 579.6L414.8 579.6L411.6 573.9ZM416.9 583.8L423.3 583.8L420.1 578.1ZM425.3 586.0L431.7 586.0L428.5 580.3ZM433.8 582.8L440.2 582.8L437.0 577.1ZM408.4 590.6L414.8 590.6L411.6 584.9ZM416.9 591.9L423.3 591.9L420.1 586.2ZM425.3 595.5L431.7 595.5L428.5 589.8ZM433.8 593.8L440.2 593.8L437.0 588.1ZM442.7 590.6L449.1 590.6L445.9 584.9ZM451.6 586.4L458.0 586.4L454.8 580.7ZM408.4 601.8L414.8 601.8L411.6 596.1ZM442.7 598.2L449.1 598.2L445.9 592.5ZM417.2 604.4L423.6 604.4L420.4 598.7ZM421.4 606.3L427.8 606.3L424.6 600.6ZM425.5 604.4L431.9 604.4L428.7 598.7ZM429.7 606.3L436.1 606.3L432.9 600.6ZM434.1 603.8L440.5 603.8L437.3 598.1ZM391.2 609.2L397.6 609.2L394.4 603.5ZM399.9 609.2L406.3 609.2L403.1 603.5ZM459.9 608.3L466.3 608.3L463.1 602.6ZM451.4 610.2L457.8 610.2L454.6 604.5ZM442.8 611.5L449.2 611.5L446.0 605.8ZM408.5 612.1L414.9 612.1L411.7 606.4ZM408.5 616.0L414.9 616.0L411.7 610.3ZM417.2 613.1L423.6 613.1L420.4 607.4ZM417.2 616.9L423.6 616.9L420.4 611.2ZM425.5 614.0L431.9 614.0L428.7 608.3ZM434.1 612.7L440.5 612.7L437.3 607.0ZM438.3 616.9L444.7 616.9L441.5 611.2ZM447.0 616.0L453.4 616.0L450.2 610.3ZM455.6 616.0L462.0 616.0L458.8 610.3ZM391.2 616.9L397.6 616.9L394.4 611.2ZM399.9 617.3L406.3 617.3L403.1 611.6ZM399.9 620.2L406.3 620.2L403.1 614.5ZM391.2 630.4L397.6 630.4L394.4 624.7ZM399.9 630.4L406.3 630.4L403.1 624.7ZM399.9 637.1L406.3 637.1L403.1 631.4ZM408.5 631.3L414.9 631.3L411.7 625.6ZM417.2 631.3L423.6 631.3L420.4 625.6ZM421.4 629.4L427.8 629.4L424.6 623.7ZM429.7 631.3L436.1 631.3L432.9 625.6ZM425.5 636.2L431.9 636.2L428.7 630.5ZM434.1 633.3L440.5 633.3L437.3 627.6ZM442.8 631.3L449.2 631.3L446.0 625.6ZM451.4 630.4L457.8 630.4L454.6 624.7ZM459.9 630.0L466.3 630.0L463.1 624.3ZM408.5 643.8L414.9 643.8L411.7 638.1ZM408.5 648.7L414.9 648.7L411.7 643.0ZM417.2 644.8L423.6 644.8L420.4 639.1ZM421.4 646.7L427.8 646.7L424.6 641.0ZM425.5 645.8L431.9 645.8L428.7 640.1ZM429.7 646.7L436.1 646.7L432.9 641.0ZM434.1 643.8L440.5 643.8L437.3 638.1ZM442.8 641.5L449.2 641.5L446.0 635.8ZM391.2 649.2L397.6 649.2L394.4 643.5ZM399.9 649.6L406.3 649.6L403.1 643.9ZM451.4 649.2L457.8 649.2L454.6 643.5ZM459.9 648.1L466.3 648.1L463.1 642.4ZM417.2 654.4L423.6 654.4L420.4 648.7ZM425.5 656.3L431.9 656.3L428.7 650.6ZM434.1 655.0L440.5 655.0L437.3 649.3ZM442.8 653.5L449.2 653.5L446.0 647.8ZM137.4 870.6L143.8 870.6L140.6 864.9ZM128.9 885.2L135.3 885.2L132.1 879.5ZM137.4 889.0L143.8 889.0L140.6 883.3ZM146.0 889.0L152.4 889.0L149.2 883.3ZM128.9 907.7L135.3 907.7L132.1 902.0ZM138.0 910.6L144.4 910.6L141.2 904.9ZM138.0 954.4L144.4 954.4L141.2 948.7ZM147.0 953.3L153.4 953.3L150.2 947.6ZM129.9 968.7L136.3 968.7L133.1 963.0ZM147.0 968.3L153.4 968.3L150.2 962.6ZM138.3 972.5L144.7 972.5L141.5 966.8ZM155.6 974.6L162.0 974.6L158.8 968.9ZM129.9 979.2L136.3 979.2L133.1 973.5ZM147.0 980.2L153.4 980.2L150.2 974.5ZM138.5 984.6L144.9 984.6L141.7 978.9ZM121.2 985.0L127.6 985.0L124.4 979.3ZM130.3 993.3L136.7 993.3L133.5 987.6ZM138.9 993.8L145.3 993.8L142.1 988.1ZM147.6 992.3L154.0 992.3L150.8 986.6ZM121.2 998.5L127.6 998.5L124.4 992.8ZM130.3 999.6L136.7 999.6L133.5 993.9ZM155.6 998.5L162.0 998.5L158.8 992.8ZM138.9 1004.4L145.3 1004.4L142.1 998.7ZM147.6 1003.8L154.0 1003.8L150.8 998.1ZM121.2 1014.0L127.6 1014.0L124.4 1008.3ZM130.3 1017.7L136.7 1017.7L133.5 1012.0ZM138.9 1021.5L145.3 1021.5L142.1 1015.8ZM147.6 1017.7L154.0 1017.7L150.8 1012.0ZM156.2 1014.0L162.6 1014.0L159.4 1008.3ZM147.6 1027.3L154.0 1027.3L150.8 1021.6ZM138.9 1033.3L145.3 1033.3L142.1 1027.6ZM217.2 816.9L223.6 816.9L220.4 811.2ZM217.2 831.7L223.6 831.7L220.4 826.0ZM217.6 862.9L224.0 862.9L220.8 857.2ZM226.4 874.0L232.8 874.0L229.6 868.3ZM217.6 878.5L224.0 878.5L220.8 872.8ZM209.1 888.1L215.5 888.1L212.3 882.4ZM217.6 888.1L224.0 888.1L220.8 882.4ZM209.9 935.0L216.3 935.0L213.1 929.3ZM218.1 935.2L224.5 935.2L221.3 929.5ZM226.8 935.2L233.2 935.2L230.0 929.5ZM235.8 933.1L242.2 933.1L239.0 927.4ZM218.1 950.4L224.5 950.4L221.3 944.7ZM227.2 951.9L233.6 951.9L230.4 946.2ZM210.1 962.1L216.5 962.1L213.3 956.4ZM218.7 960.2L225.1 960.2L221.9 954.5ZM201.8 966.7L208.2 966.7L205.0 961.0ZM227.2 966.3L233.6 966.3L230.4 960.6ZM235.8 962.5L242.2 962.5L239.0 956.8ZM210.1 969.2L216.5 969.2L213.3 963.5ZM218.7 969.2L225.1 969.2L221.9 963.5ZM201.8 975.4L208.2 975.4L205.0 969.7ZM210.5 978.8L216.9 978.8L213.7 973.1ZM235.8 976.0L242.2 976.0L239.0 970.3ZM218.7 982.7L225.1 982.7L221.9 977.0ZM227.2 980.8L233.6 980.8L230.4 975.1ZM201.8 987.7L208.2 987.7L205.0 982.0ZM227.8 987.7L234.2 987.7L231.0 982.0ZM236.4 987.7L242.8 987.7L239.6 982.0ZM210.5 994.0L216.9 994.0L213.7 988.3ZM218.7 994.0L225.1 994.0L221.9 988.3ZM214.9 999.8L221.3 999.8L218.1 994.1ZM201.8 1004.6L208.2 1004.6L205.0 998.9ZM210.5 1004.6L216.9 1004.6L213.7 998.9ZM223.0 1001.7L229.4 1001.7L226.2 996.0ZM236.4 1004.2L242.8 1004.2L239.6 998.5ZM219.1 1007.5L225.5 1007.5L222.3 1001.8ZM227.8 1007.1L234.2 1007.1L231.0 1001.4ZM201.8 1011.9L208.2 1011.9L205.0 1006.2ZM227.8 1011.9L234.2 1011.9L231.0 1006.2ZM210.5 1017.1L216.9 1017.1L213.7 1011.4ZM219.1 1016.7L225.5 1016.7L222.3 1011.0ZM215.3 1022.3L221.7 1022.3L218.5 1016.6ZM223.5 1022.3L229.9 1022.3L226.7 1016.6ZM201.8 1024.2L208.2 1024.2L205.0 1018.5ZM210.5 1024.8L216.9 1024.8L213.7 1019.1ZM236.4 1023.8L242.8 1023.8L239.6 1018.1ZM227.8 1026.3L234.2 1026.3L231.0 1020.6ZM219.1 1030.6L225.5 1030.6L222.3 1024.9ZM201.8 1033.5L208.2 1033.5L205.0 1027.8ZM227.8 1035.0L234.2 1035.0L231.0 1029.3ZM211.0 1038.3L217.4 1038.3L214.2 1032.6ZM219.1 1039.6L225.5 1039.6L222.3 1033.9ZM227.8 1043.5L234.2 1043.5L231.0 1037.8ZM219.5 1049.8L225.9 1049.8L222.7 1044.1ZM289.7 895.0L296.1 895.0L292.9 889.3ZM298.3 896.5L304.7 896.5L301.5 890.8ZM307.0 891.5L313.4 891.5L310.2 885.8ZM307.0 904.6L313.4 904.6L310.2 898.9ZM298.3 909.0L304.7 909.0L301.5 903.3ZM307.6 949.2L314.0 949.2L310.8 943.5ZM290.3 954.4L296.7 954.4L293.5 948.7ZM298.9 957.7L305.3 957.7L302.1 952.0ZM316.2 959.2L322.6 959.2L319.4 953.5ZM290.3 962.7L296.7 962.7L293.5 957.0ZM298.9 967.5L305.3 967.5L302.1 961.8ZM307.6 967.3L314.0 967.3L310.8 961.6ZM303.3 970.8L309.7 970.8L306.5 965.1ZM282.0 973.1L288.4 973.1L285.2 967.4ZM290.3 973.1L296.7 973.1L293.5 967.4ZM316.2 973.1L322.6 973.1L319.4 967.4ZM290.3 977.5L296.7 977.5L293.5 971.8ZM298.9 978.1L305.3 978.1L302.1 972.4ZM307.6 976.5L314.0 976.5L310.8 970.8ZM316.2 977.9L322.6 977.9L319.4 972.2ZM290.3 983.8L296.7 983.8L293.5 978.1ZM307.6 984.2L314.0 984.2L310.8 978.5ZM298.9 987.5L305.3 987.5L302.1 981.8ZM282.0 991.5L288.4 991.5L285.2 985.8ZM316.2 989.0L322.6 989.0L319.4 983.3ZM290.3 994.6L296.7 994.6L293.5 988.9ZM298.9 994.6L305.3 994.6L302.1 988.9ZM307.6 993.3L314.0 993.3L310.8 987.6ZM282.0 1003.7L288.4 1003.7L285.2 998.0ZM282.0 1008.1L288.4 1008.1L285.2 1002.4ZM282.0 1012.5L288.4 1012.5L285.2 1006.8ZM282.0 1016.9L288.4 1016.9L285.2 1011.2ZM277.8 1025.6L284.2 1025.6L281.0 1019.9ZM282.0 1031.0L288.4 1031.0L285.2 1025.3ZM282.0 1035.5L288.4 1035.5L285.2 1029.8ZM282.0 1040.0L288.4 1040.0L285.2 1034.3ZM290.6 1003.1L297.0 1003.1L293.8 997.4ZM290.6 1009.0L297.0 1009.0L293.8 1003.3ZM290.6 1014.9L297.0 1014.9L293.8 1009.2ZM290.6 1020.8L297.0 1020.8L293.8 1015.1ZM286.4 1025.6L292.8 1025.6L289.6 1019.9ZM290.6 1031.0L297.0 1031.0L293.8 1025.3ZM290.6 1035.5L297.0 1035.5L293.8 1029.8ZM290.6 1040.0L297.0 1040.0L293.8 1034.3ZM316.4 1003.1L322.8 1003.1L319.6 997.4ZM316.4 1010.0L322.8 1010.0L319.6 1004.3ZM316.4 1016.9L322.8 1016.9L319.6 1011.2ZM320.6 1006.3L327.0 1006.3L323.8 1000.6ZM320.6 1025.6L327.0 1025.6L323.8 1019.9ZM316.4 1030.4L322.8 1030.4L319.6 1024.7ZM316.4 1040.0L322.8 1040.0L319.6 1034.3ZM307.8 1041.0L314.2 1041.0L311.0 1035.3ZM299.1 1043.3L305.5 1043.3L302.3 1037.6ZM299.1 1002.5L305.5 1002.5L302.3 996.8ZM307.8 1002.5L314.2 1002.5L311.0 996.8ZM294.9 1007.3L301.3 1007.3L298.1 1001.6ZM303.3 1007.3L309.7 1007.3L306.5 1001.6ZM312.0 1007.3L318.4 1007.3L315.2 1001.6ZM299.1 1012.1L305.5 1012.1L302.3 1006.4ZM307.8 1012.1L314.2 1012.1L311.0 1006.4ZM294.9 1016.9L301.3 1016.9L298.1 1011.2ZM303.3 1016.9L309.7 1016.9L306.5 1011.2ZM312.0 1016.9L318.4 1016.9L315.2 1011.2ZM299.1 1021.7L305.5 1021.7L302.3 1016.0ZM307.8 1021.7L314.2 1021.7L311.0 1016.0ZM294.9 1026.5L301.3 1026.5L298.1 1020.8ZM303.3 1026.5L309.7 1026.5L306.5 1020.8ZM312.0 1026.5L318.4 1026.5L315.2 1020.8ZM299.1 1031.3L305.5 1031.3L302.3 1025.6ZM307.8 1031.3L314.2 1031.3L311.0 1025.6ZM294.9 1036.2L301.3 1036.2L298.1 1030.5ZM303.3 1036.2L309.7 1036.2L306.5 1030.5ZM312.0 1036.2L318.4 1036.2L315.2 1030.5ZM369.9 901.2L376.3 901.2L373.1 895.5ZM378.5 908.3L384.9 908.3L381.7 902.6ZM370.3 945.4L376.7 945.4L373.5 939.7ZM387.6 947.9L394.0 947.9L390.8 942.2ZM378.9 952.7L385.3 952.7L382.1 947.0ZM370.8 958.5L377.2 958.5L374.0 952.8ZM379.3 961.7L385.7 961.7L382.5 956.0ZM362.6 969.4L369.0 969.4L365.8 963.7ZM370.8 972.3L377.2 972.3L374.0 966.6ZM396.6 971.3L403.0 971.3L399.8 965.6ZM379.3 977.1L385.7 977.1L382.5 971.4ZM388.0 975.8L394.4 975.8L391.2 970.1ZM396.6 980.0L403.0 980.0L399.8 974.3ZM362.6 985.4L369.0 985.4L365.8 979.7ZM370.8 985.4L377.2 985.4L374.0 979.7ZM379.3 986.7L385.7 986.7L382.5 981.0ZM388.0 985.4L394.4 985.4L391.2 979.7ZM366.8 989.6L373.2 989.6L370.0 983.9ZM375.1 992.5L381.5 992.5L378.3 986.8ZM383.7 992.5L390.1 992.5L386.9 986.8ZM392.4 990.6L398.8 990.6L395.6 984.9ZM401.0 989.2L407.4 989.2L404.2 983.5ZM362.6 993.5L369.0 993.5L365.8 987.8ZM370.8 995.0L377.2 995.0L374.0 989.3ZM388.0 995.4L394.4 995.4L391.2 989.7ZM396.6 994.4L403.0 994.4L399.8 988.7ZM379.3 998.3L385.7 998.3L382.5 992.6ZM362.6 1002.1L369.0 1002.1L365.8 996.4ZM383.7 1003.1L390.1 1003.1L386.9 997.4ZM370.8 1006.0L377.2 1006.0L374.0 1000.3ZM396.6 1005.4L403.0 1005.4L399.8 999.7ZM362.6 1006.3L369.0 1006.3L365.8 1000.6ZM362.6 1014.6L369.0 1014.6L365.8 1008.9ZM370.8 1016.5L377.2 1016.5L374.0 1010.8ZM379.3 1018.5L385.7 1018.5L382.5 1012.8ZM388.0 1015.6L394.4 1015.6L391.2 1009.9ZM396.6 1015.6L403.0 1015.6L399.8 1009.9ZM362.6 1021.3L369.0 1021.3L365.8 1015.6ZM370.8 1023.3L377.2 1023.3L374.0 1017.6ZM388.0 1022.3L394.4 1022.3L391.2 1016.6ZM379.3 1029.0L385.7 1029.0L382.5 1023.3ZM375.1 1031.0L381.5 1031.0L378.3 1025.3ZM383.7 1031.9L390.1 1031.9L386.9 1026.2ZM362.6 1033.8L369.0 1033.8L365.8 1028.1ZM370.8 1035.8L377.2 1035.8L374.0 1030.1ZM388.0 1036.2L394.4 1036.2L391.2 1030.5ZM396.6 1034.8L403.0 1034.8L399.8 1029.1ZM379.9 1040.0L386.3 1040.0L383.1 1034.3ZM468.0 949.8L474.4 949.8L471.2 944.1ZM459.9 957.5L466.3 957.5L463.1 951.8ZM451.2 961.0L457.6 961.0L454.4 955.3ZM459.9 967.1L466.3 967.1L463.1 961.4ZM459.9 1000.8L466.3 1000.8L463.1 995.1ZM468.1 998.3L474.5 998.3L471.3 992.6ZM468.1 1007.5L474.5 1007.5L471.3 1001.8ZM451.2 1009.4L457.6 1009.4L454.4 1003.7ZM460.3 1016.5L466.7 1016.5L463.5 1010.8ZM451.6 1029.6L458.0 1029.6L454.8 1023.9ZM468.5 1031.5L474.9 1031.5L471.7 1025.8ZM460.5 1036.0L466.9 1036.0L463.7 1030.3Z" fill="#000" stroke="#000" stroke-width="0.8" stroke-linejoin="round"/>
<line x1="140.45" y1="599.5" x2="204.55" y2="599.0" stroke="#000" stroke-width="3.9" stroke-linecap="round"/>
<line x1="252.75" y1="614.2" x2="345.75" y2="613.6" stroke="#000" stroke-width="3.5" stroke-linecap="round"/>
<line x1="381.75" y1="621.2" x2="476.25" y2="619.9" stroke="#000" stroke-width="3.5" stroke-linecap="round"/>
<line x1="115.5" y1="985.6" x2="171.0" y2="985.0" stroke="#000" stroke-width="3.0" stroke-linecap="round"/>
<line x1="197.0" y1="988.4" x2="252.0" y2="987.9" stroke="#000" stroke-width="3.0" stroke-linecap="round"/>
<line x1="277.0" y1="994.7" x2="332.0" y2="994.1" stroke="#000" stroke-width="3.0" stroke-linecap="round"/>
<line x1="356.0" y1="1005.3" x2="411.0" y2="1004.8" stroke="#000" stroke-width="3.0" stroke-linecap="round"/>
<line x1="436.0" y1="1004.3" x2="491.0" y2="1003.8" stroke="#000" stroke-width="3.0" stroke-linecap="round"/>
</svg>
</body></html>
